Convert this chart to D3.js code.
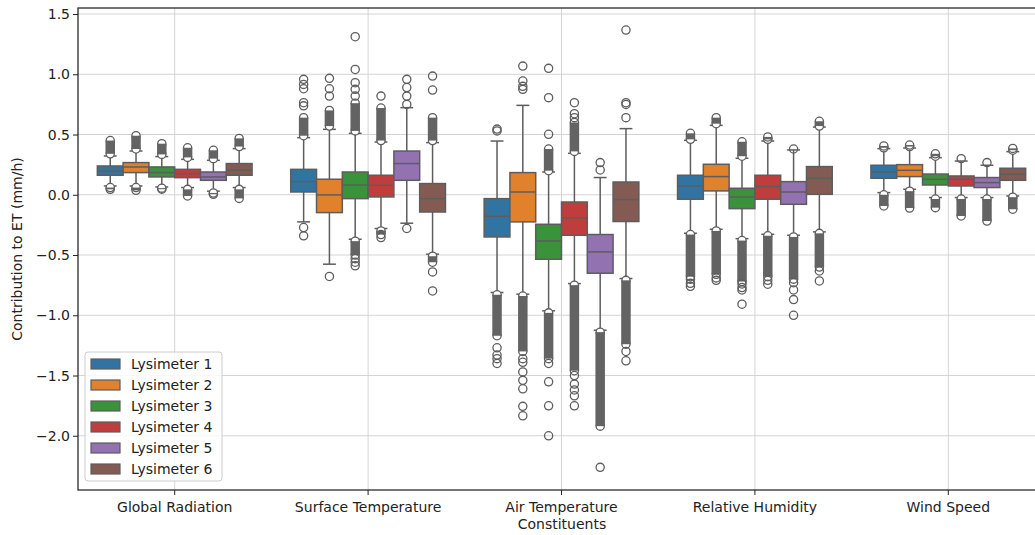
<!DOCTYPE html>
<html>

<head>
    <meta charset="utf-8">
    <title>Contribution to ET</title>
    <script type="text/javascript" src="https://cdn.jsdelivr.net/npm/d3@7"></script>
    <style>
        body { margin: 0; background: #fff; }
        svg { font-family: "DejaVu Sans", sans-serif; }
    </style>
</head>

<body>
    <div id="chart_div"></div>
    <script type="text/javascript">
        const constituents = ["Global Radiation", "Surface Temperature", "Air Temperature", "Relative Humidity", "Wind Speed"];
        const lysimeters = ["Lysimeter 1", "Lysimeter 2", "Lysimeter 3", "Lysimeter 4", "Lysimeter 5", "Lysimeter 6"];
        const yTicks = [-2.0, -1.5, -1.0, -0.5, 0.0, 0.5, 1.0, 1.5];

        // [lower whisker, Q1, median, Q3, upper whisker] for lysimeter 1..6
        const boxGlobalRadiation = [
            [0.073, 0.162, 0.197, 0.239, 0.322],
            [0.073, 0.184, 0.231, 0.267, 0.363],
            [0.065, 0.148, 0.184, 0.231, 0.317],
            [0.060, 0.142, 0.176, 0.211, 0.294],
            [0.030, 0.120, 0.148, 0.189, 0.286],
            [0.060, 0.162, 0.203, 0.259, 0.383]
        ];
        const boxSurfaceTemp = [
            [-0.225, 0.023, 0.109, 0.211, 0.474],
            [-0.576, -0.148, -0.001, 0.129, 0.543],
            [-0.369, -0.032, 0.081, 0.189, 0.510],
            [-0.280, -0.018, 0.079, 0.162, 0.438],
            [-0.236, 0.120, 0.259, 0.363, 0.723],
            [-0.493, -0.143, -0.032, 0.093, 0.433]
        ];
        const boxAirTemp = [
            [-0.811, -0.350, -0.178, -0.032, 0.446],
            [-0.825, -0.225, 0.023, 0.184, 0.742],
            [-0.963, -0.535, -0.383, -0.245, 0.189],
            [-0.737, -0.336, -0.192, -0.060, 0.344],
            [-1.124, -0.651, -0.474, -0.330, 0.143],
            [-0.695, -0.222, -0.040, 0.106, 0.549]
        ];
        const boxRelHumidity = [
            [-0.319, -0.037, 0.073, 0.162, 0.452],
            [-0.286, 0.032, 0.151, 0.253, 0.576],
            [-0.364, -0.115, -0.018, 0.054, 0.303],
            [-0.328, -0.037, 0.068, 0.162, 0.446],
            [-0.336, -0.079, 0.023, 0.109, 0.372],
            [-0.308, 0.004, 0.137, 0.234, 0.562]
        ];
        const boxWindSpeed = [
            [0.018, 0.137, 0.189, 0.245, 0.383],
            [0.046, 0.151, 0.203, 0.250, 0.388],
            [-0.023, 0.081, 0.129, 0.172, 0.308],
            [-0.023, 0.073, 0.129, 0.156, 0.280],
            [-0.023, 0.060, 0.101, 0.143, 0.245],
            [-0.010, 0.120, 0.170, 0.220, 0.358]
        ];

        // runs of outliers so dense they merge into a bar: [from, to]
        const runsGlobalRadiation = [
            [[0.34, 0.45], [0.045, 0.06]],
            [[0.38, 0.49], [0.037, 0.06]],
            [[0.335, 0.424], [0.046, 0.055]],
            [[0.31, 0.39], [-0.01, 0.045]],
            [[0.30, 0.369], [0.004, 0.015]],
            [[0.40, 0.468], [-0.03, 0.045]]
        ];
        const runsSurfaceTemp = [
            [[0.49, 0.64]],
            [[0.57, 0.70]],
            [[0.53, 0.76], [-0.385, -0.50]],
            [[0.45, 0.72], [-0.30, -0.33]],
            [],
            [[0.45, 0.64], [-0.51, -0.56]]
        ];
        const runsAirTemp = [
            [[-0.83, -1.17]],
            [[-0.84, -1.30]],
            [[0.20, 0.38], [-0.98, -1.36]],
            [[0.36, 0.60], [-0.75, -1.46]],
            [[-1.14, -1.92]],
            [[-0.71, -1.24]]
        ];
        const runsRelHumidity = [
            [[0.46, 0.51], [-0.33, -0.68]],
            [[0.59, 0.64], [-0.30, -0.66]],
            [[0.32, 0.44], [-0.38, -0.72]],
            [[0.46, 0.48], [-0.34, -0.68]],
            [[-0.35, -0.70]],
            [[0.57, 0.61], [-0.32, -0.60]]
        ];
        const runsWindSpeed = [
            [[0.39, 0.405], [0.0, -0.093]],
            [[0.40, 0.413], [0.03, -0.11]],
            [[0.32, 0.34], [-0.035, -0.107]],
            [[-0.035, -0.176]],
            [[-0.035, -0.218]],
            [[0.37, 0.385], [-0.02, -0.12]]
        ];

        // single outliers
        const outGlobalRadiation = [[], [], [], [], [], []];
        const outSurfaceTemp = [
            [0.958, 0.916, 0.88, 0.764, 0.738, -0.272, -0.341],
            [0.966, 0.88, 0.819, -0.678],
            [1.312, 1.04, 0.93, 0.875, 0.819, -0.53, -0.56, -0.59],
            [0.819, -0.355],
            [0.958, 0.89, 0.819, 0.75, -0.28],
            [0.985, 0.869, -0.64, -0.798]
        ];
        const outAirTemp = [
            [0.53, 0.545, -1.27, -1.33, -1.36, -1.40],
            [1.068, 0.944, 0.90, 0.875, -1.36, -1.39, -1.47, -1.54, -1.61, -1.756, -1.834],
            [1.049, 0.806, 0.502, -1.40, -1.552, -1.751, -2.0],
            [0.764, 0.673, 0.64, -1.50, -1.571, -1.62, -1.668, -1.751],
            [0.267, 0.206, -2.262],
            [1.367, 0.764, 0.75, 0.64, -1.30, -1.378]
        ];
        const outRelHumidity = [
            [-0.70, -0.735, -0.76],
            [-0.69, -0.71],
            [-0.74, -0.77, -0.79, -0.908],
            [-0.71, -0.742],
            [0.38, -0.73, -0.79, -0.87, -1.0],
            [-0.632, -0.715]
        ];
        const outWindSpeed = [[], [], [], [0.30], [0.267], []];

        const boxes = [boxGlobalRadiation, boxSurfaceTemp, boxAirTemp, boxRelHumidity, boxWindSpeed];
        const runs = [runsGlobalRadiation, runsSurfaceTemp, runsAirTemp, runsRelHumidity, runsWindSpeed];
        const outs = [outGlobalRadiation, outSurfaceTemp, outAirTemp, outRelHumidity, outWindSpeed];

        const colors = ["#3274a1", "#e1812c", "#3a923a", "#c03d3e", "#9372b2", "#845b53"];
        const lineColor = "#5d5d5d";

        let width = 1035, height = 535;
        let mLeft = 78, mRight = 1045, mTop = 8, mBottom = 490;

        let svg = d3.select("#chart_div").append("svg")
            .attr("width", width)
            .attr("height", height);

        let x = d3.scaleBand().domain(constituents).range([mLeft, mRight]);
        let inner = d3.scaleBand().domain(lysimeters)
            .range([x.bandwidth() * 0.1, x.bandwidth() * 0.9]);
        let y = d3.scaleLinear().domain([-2.45, 1.55]).range([mBottom, mTop]);
        let color = d3.scaleOrdinal(lysimeters, colors);

        // grid
        let grid = svg.append("g").attr("class", "grid");
        grid.selectAll("line.h").data(yTicks).enter().append("line")
            .attr("x1", mLeft).attr("x2", mRight)
            .attr("y1", d => y(d)).attr("y2", d => y(d))
            .attr("stroke", "#d4d4d4").attr("stroke-width", 1);
        grid.selectAll("line.v").data(constituents).enter().append("line")
            .attr("x1", d => x(d) + x.bandwidth() / 2).attr("x2", d => x(d) + x.bandwidth() / 2)
            .attr("y1", mTop).attr("y2", mBottom)
            .attr("stroke", "#d4d4d4").attr("stroke-width", 1);

        // flatten into one record per box
        let records = [];
        constituents.forEach((c, ci) => {
            lysimeters.forEach((l, li) => {
                let s = boxes[ci][li];
                records.push({
                    constituent: c, lysimeter: l,
                    lo: s[0], q1: s[1], med: s[2], q3: s[3], hi: s[4],
                    runs: runs[ci][li], outs: outs[ci][li]
                });
            });
        });

        let bw = inner.bandwidth();
        let r = 4.1;

        let g = svg.append("g").attr("class", "boxes")
            .selectAll("g")
            .data(records)
            .enter().append("g")
            .attr("transform", d => `translate(${x(d.constituent) + inner(d.lysimeter)},0)`);

        // whiskers + caps
        g.append("line")
            .attr("x1", bw / 2).attr("x2", bw / 2)
            .attr("y1", d => y(d.hi)).attr("y2", d => y(d.lo))
            .attr("stroke", lineColor).attr("stroke-width", 1.5);
        g.append("line")
            .attr("x1", bw / 4).attr("x2", bw * 3 / 4)
            .attr("y1", d => y(d.hi)).attr("y2", d => y(d.hi))
            .attr("stroke", lineColor).attr("stroke-width", 1.5);
        g.append("line")
            .attr("x1", bw / 4).attr("x2", bw * 3 / 4)
            .attr("y1", d => y(d.lo)).attr("y2", d => y(d.lo))
            .attr("stroke", lineColor).attr("stroke-width", 1.5);

        // box
        g.append("rect")
            .attr("x", 0).attr("width", bw)
            .attr("y", d => y(d.q3)).attr("height", d => y(d.q1) - y(d.q3))
            .attr("fill", d => color(d.lysimeter))
            .attr("stroke", lineColor).attr("stroke-width", 1.5);
        g.append("line")
            .attr("x1", 0).attr("x2", bw)
            .attr("y1", d => y(d.med)).attr("y2", d => y(d.med))
            .attr("stroke", lineColor).attr("stroke-width", 1.5);

        // dense outlier runs: end circles open, body solid
        g.each(function (d) {
            let sel = d3.select(this);
            d.runs.forEach(run => {
                run.forEach(v => {
                    sel.append("circle")
                        .attr("cx", bw / 2).attr("cy", y(v)).attr("r", r)
                        .attr("fill", "white").attr("stroke", lineColor).attr("stroke-width", 1.3);
                });
                let y0 = Math.min(y(run[0]), y(run[1])), y1 = Math.max(y(run[0]), y(run[1]));
                sel.append("rect")
                    .attr("x", bw / 2 - r - 0.65).attr("width", 2 * r + 1.3)
                    .attr("y", y0).attr("height", y1 - y0)
                    .attr("fill", "#636363");
            });
            sel.selectAll("circle.out")
                .data(d.outs)
                .enter().append("circle")
                .attr("class", "out")
                .attr("cx", bw / 2).attr("cy", v => y(v)).attr("r", r)
                .attr("fill", "none").attr("stroke", lineColor).attr("stroke-width", 1.3);
        });

        // axes
        let yAxis = svg.append("g")
            .attr("transform", `translate(${mLeft},0)`)
            .call(d3.axisLeft(y).tickValues(yTicks).tickFormat(d3.format(".1f")).tickSize(5).tickPadding(3));
        let xAxis = svg.append("g")
            .attr("transform", `translate(0,${mBottom})`)
            .call(d3.axisBottom(x).tickSize(5).tickPadding(7));
        [yAxis, xAxis].forEach(a => {
            a.select(".domain").remove();
            a.selectAll("line").attr("stroke", "#222").attr("stroke-width", 1);
            a.selectAll("text").attr("fill", "#222")
                .style("font-family", "'DejaVu Sans', sans-serif").style("font-size", "14px");
        });

        // spines
        svg.append("rect")
            .attr("x", mLeft).attr("y", mTop)
            .attr("width", mRight - mLeft).attr("height", mBottom - mTop)
            .attr("fill", "none").attr("stroke", "#222").attr("stroke-width", 1.25);

        // axis labels
        svg.append("text")
            .attr("transform", `translate(22,${(mTop + mBottom) / 2}) rotate(-90)`)
            .attr("text-anchor", "middle")
            .attr("font-size", "14px").attr("fill", "#222")
            .text("Contribution to ET (mm/h)");
        svg.append("text")
            .attr("x", 562).attr("y", 529)
            .attr("text-anchor", "middle")
            .attr("font-size", "14px").attr("fill", "#222")
            .text("Constituents");

        // legend
        let legend = svg.append("g").attr("transform", "translate(85,352)");
        legend.append("rect")
            .attr("width", 137).attr("height", 129).attr("rx", 3)
            .attr("fill", "white").attr("fill-opacity", 0.8)
            .attr("stroke", "#cccccc").attr("stroke-width", 1);
        let items = legend.selectAll("g.item")
            .data(lysimeters)
            .enter().append("g")
            .attr("class", "item")
            .attr("transform", (d, i) => `translate(0,${12 + i * 21})`);
        items.append("rect")
            .attr("x", 6).attr("y", -5).attr("width", 29).attr("height", 10)
            .attr("fill", d => color(d))
            .attr("stroke", lineColor).attr("stroke-width", 1.2);
        items.append("text")
            .attr("x", 46).attr("dy", "0.35em")
            .attr("font-size", "14px").attr("fill", "#222")
            .text(d => d);
    </script>
</body>

</html>
